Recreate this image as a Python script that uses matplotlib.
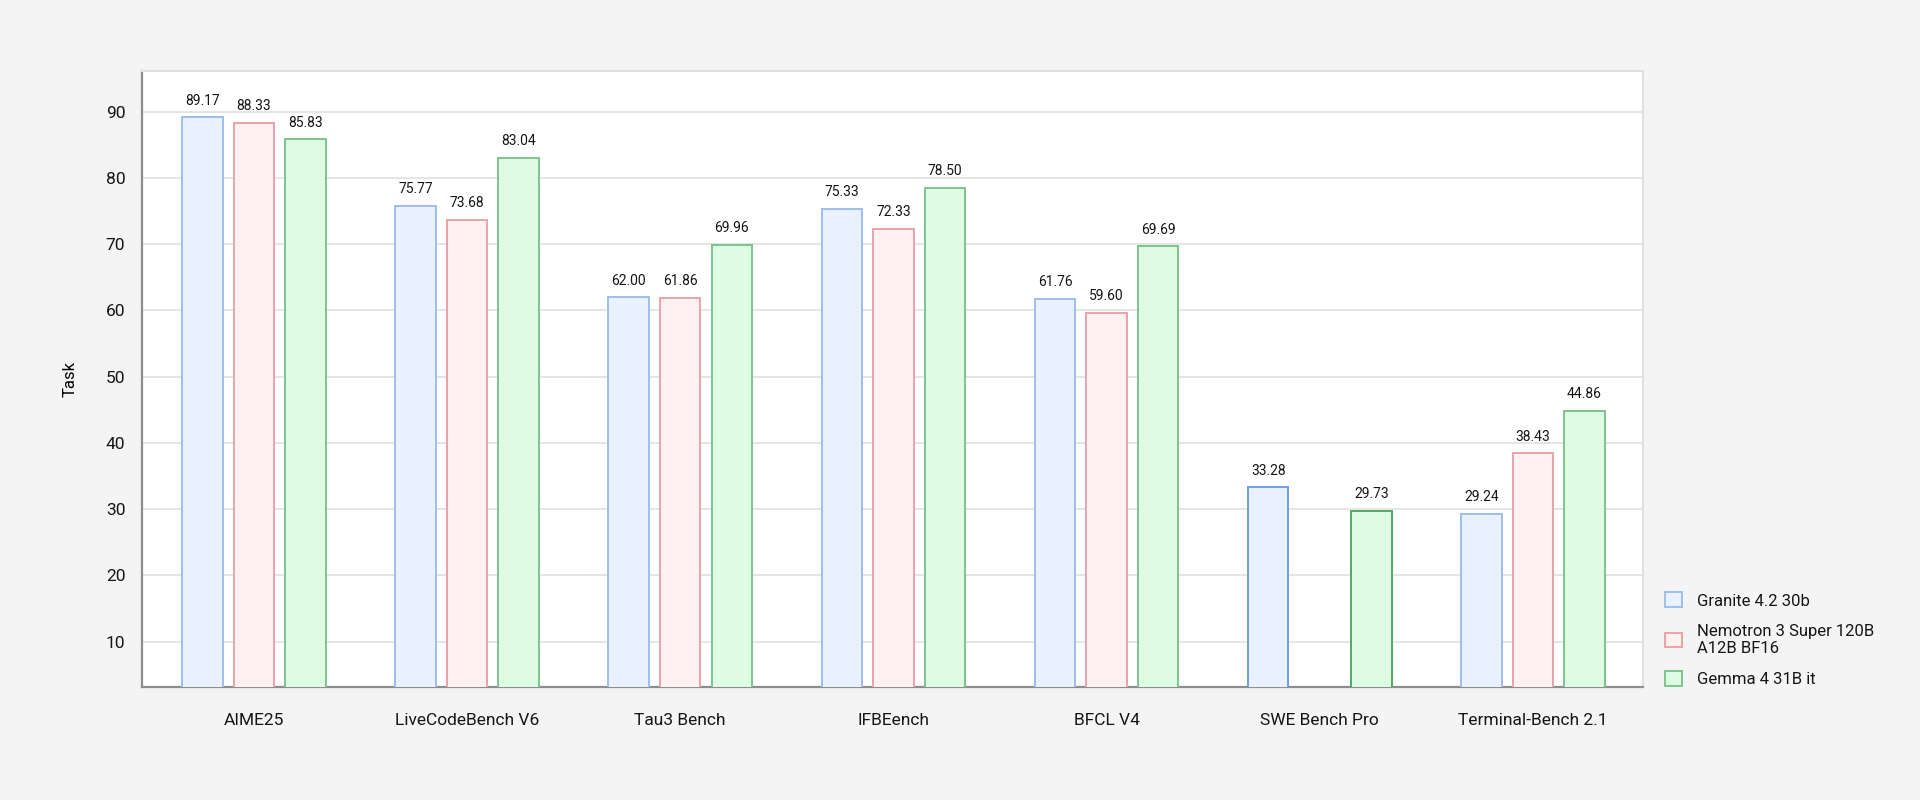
import matplotlib.pyplot as plt
import numpy as np

# data
tasks = ["AIME25", "LiveCodeBench V6", "Tau3 Bench", "IFBEench", "BFCL V4",
         "SWE Bench Pro", "Terminal-Bench 2.1"]
models = ["Granite 4.2 30b", "Nemotron 3 Super 120B\nA12B BF16", "Gemma 4 31B it"]
granite = [89.17, 75.77, 62.00, 75.33, 61.76, 33.28, 29.24]
nemotron = [88.33, 73.68, 61.86, 72.33, 59.60, np.nan, 38.43]
gemma = [85.83, 83.04, 69.96, 78.50, 69.69, 29.73, 44.86]
yticks = [10, 20, 30, 40, 50, 60, 70, 80, 90]

fills = ["#e8f1fd", "#fff0f1", "#defbe4"]
edges = ["#9dbfec", "#e8a3a8", "#7cc48c"]
edges_hi = ["#6f9ee4", "#e8a3a8", "#52a866"]  # SWE Bench Pro group is highlighted
hi_group = 5

plt.rcParams['font.family'] = ['Roboto', 'DejaVu Sans']
plt.rcParams['text.color'] = '#161616'

fig = plt.figure(figsize=(19.2, 8), dpi=100, facecolor='#f4f4f4')
ax = fig.add_axes([142 / 1920, 1 - 686.7 / 800, (1642.7 - 142) / 1920, (686.7 - 70.7) / 800])
ax.set_facecolor('white')

x = np.arange(len(tasks))
width = 0.19
offset = 0.242
for i, (vals, name) in enumerate(zip([granite, nemotron, gemma], models)):
    ec = [edges_hi[i] if k == hi_group else edges[i] for k in range(len(tasks))]
    bars = ax.bar(x + (i - 1) * offset, vals, width, color=fills[i], edgecolor=ec,
                  linewidth=1.4, label=name, zorder=3)
    for b, v in zip(bars, vals):
        if np.isnan(v):
            continue
        ax.annotate(f"{v:.2f}", (b.get_x() + b.get_width() / 2, v),
                    xytext=(0, 7), textcoords='offset points',
                    ha='center', va='bottom', fontsize=10, color='#161616')

ax.set_xlim(-0.525, 6.515)
ax.set_ylim(3.2, 96.2)
ax.set_yticks(yticks)
ax.set_xticks(x)
ax.set_xticklabels(tasks)
ax.tick_params(axis='both', length=0, labelsize=12.5, colors='#161616')
ax.tick_params(axis='y', pad=12)
ax.tick_params(axis='x', pad=19)
ax.grid(axis='y', color='#e0e0e0', linewidth=1.2, zorder=0)
ax.set_axisbelow(True)

for s in ['top', 'right']:
    ax.spines[s].set_color('#e0e0e0')
    ax.spines[s].set_linewidth(1.5)
for s in ['left', 'bottom']:
    ax.spines[s].set_color('#8d8d8d')
    ax.spines[s].set_linewidth(1.6)

ax.set_ylabel("Task", fontsize=12, labelpad=20)

leg = ax.legend(loc='lower left', bbox_to_anchor=(1.005, -0.025), frameon=False,
                fontsize=12, handlelength=1.0, handleheight=1.0,
                labelspacing=0.9, handletextpad=0.9)

plt.savefig('out.png', dpi=100, facecolor=fig.get_facecolor())
